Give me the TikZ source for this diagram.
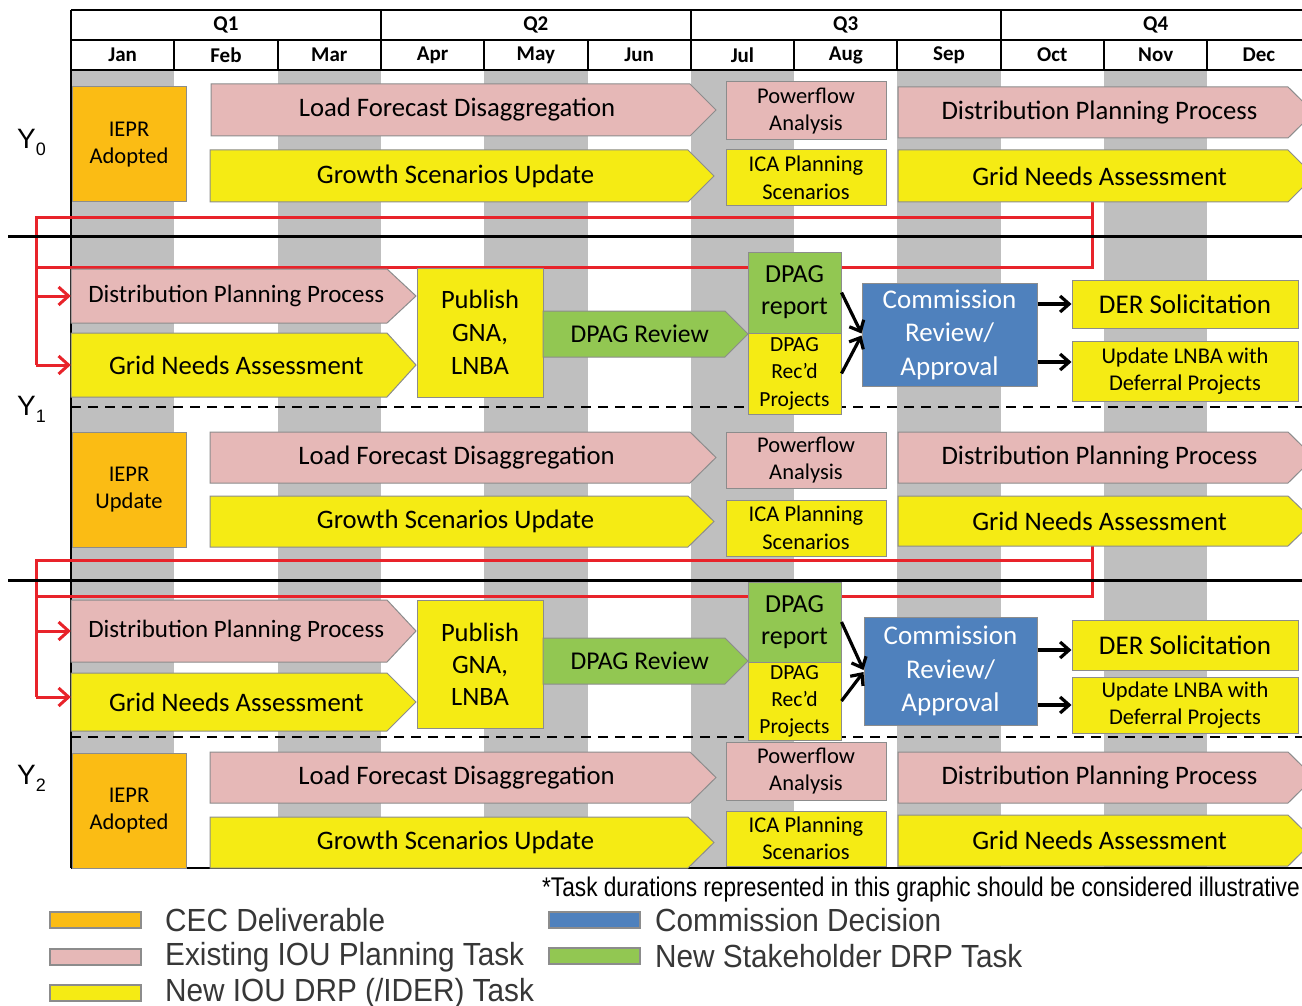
\documentclass[tikz,border=0pt]{standalone}
\usepackage{fontspec}
\setmainfont{Carlito}
\newfontfamily\arialfont{Liberation Sans}
\newfontfamily\legfont[FakeStretch=0.93]{Liberation Sans}
\newfontfamily\notefont[FakeStretch=0.84]{Liberation Sans}
\usetikzlibrary{arrows.meta,calc}
\definecolor{cOrange}{RGB}{251,188,20}
\definecolor{cPink}{RGB}{230,184,183}
\definecolor{cYellow}{RGB}{245,235,20}
\definecolor{cGreen}{RGB}{146,199,82}
\definecolor{cBlue}{RGB}{79,129,189}
\definecolor{cStripe}{RGB}{191,191,191}
\definecolor{cRed}{RGB}{232,35,42}
\definecolor{cEdge}{RGB}{140,140,140}
\definecolor{cLegend}{RGB}{55,55,55}
\newcommand{\fs}[2]{\fontsize{#1}{#2}\selectfont}
\tikzset{
  box/.style={draw=cEdge, line width=1pt, inner sep=0pt, align=center},
  hdr/.style={line width=2pt, black},
  redln/.style={draw=cRed, line width=3pt},
  redarr/.style={draw=cRed, line width=3pt, -{Straight Barb[length=10pt,width=18pt]}},
  blkarr/.style={draw=black, line width=3.2pt, -{Straight Barb[length=9pt,width=16pt]}},
  sep/.style={line width=3pt, black},
  dashsep/.style={line width=2.5pt, black, dash pattern=on 10pt off 7pt},
  sw/.style={draw=black!45, line width=1.2pt, minimum width=91pt, minimum height=16pt, inner sep=0pt},
  legtxt/.style={anchor=west, font=\legfont\fs{32}{36}, text=cLegend, inner sep=0pt},
  hdtxt/.style={font=\bfseries\fs{21}{24}},
  small/.style={font=\fs{22.5}{27.5}},
}
\newcommand{\chev}[8]{%
  \filldraw[fill=#7, draw=cEdge, line width=1pt] (#2,#3) -- ({#4-#6},#3) -- (#4,{(#3+#5)/2}) -- ({#4-#6},#5) -- (#2,#5) -- cycle;
  \node[inner sep=0pt, minimum width={#4-#2}, minimum height={#5-#3}] (#1) at ({(#2+#4)/2},{(#3+#5)/2}) {};
  \node[inner sep=0pt, align=center] (#1-t) at ({(#2+#4)/2-#6/4},{(#3+#5)/2}) {#8};
}
\newcommand{\rbox}[7]{%
  \node[box, #6, minimum width={#4-#2}, minimum height={#5-#3}] (#1) at ({(#2+#4)/2},{(#3+#5)/2}) {#7};
}
\begin{document}
\begin{tikzpicture}[x=1pt,y=-1pt]
\useasboundingbox (0,0) rectangle (1302,1006);
\clip (0,0) rectangle (1302,1006);
\fill[white] (0,0) rectangle (1302,1006);
% stripes
\foreach \k in {0,2,...,10}
  \fill[cStripe] ({71+\k*103.3},70) rectangle ({71+(\k+1)*103.3},868);
% header
\draw[hdr] (71,10) -- (1302,10);
\draw[hdr] (71,40) -- (1302,40);
\draw[hdr] (71,70) -- (1302,70);
\draw[hdr] (71,10) -- (71,868);
\foreach \k in {3,6,9} \draw[hdr] ({71+\k*103.3},10) -- ({71+\k*103.3},70);
\foreach \k in {1,2,4,5,7,8,10,11} \draw[hdr] ({71+\k*103.3},40) -- ({71+\k*103.3},70);
\foreach \q [count=\i from 0] in {Q1,Q2,Q3,Q4}
  \node[hdtxt] (hq\i) at ({71+(3*\i+1.5)*103.3},25) {\q};
\foreach \m [count=\i from 0] in {Jan,Feb,Mar,Apr,May,Jun,Jul,Aug,Sep,Oct,Nov,Dec}
  \node[hdtxt] (hm\i) at ({71+(\i+0.5)*103.3},55) {\m};
\draw[hdr] (71,868) -- (1302,868);

% connector anchor points of the red feedback loops
\coordinate (rA0) at (1092,202);
\coordinate (rB0) at (36,217);
\coordinate (rC0) at (36,267);
\coordinate (rA1) at (1092,546);
\coordinate (rB1) at (36,560);
\coordinate (rC1) at (36,596);

% red loops
\draw[redln, line join=miter] (rA0) |- (rC0);
\draw[redln, line join=miter] (rA0 |- rB0) -| (36,365);
\draw[redln, line join=miter] (rA1) |- (rC1);
\draw[redln, line join=miter] (rA1 |- rB1) -| (36,697);

% separators
\draw[sep] (8,236) -- (1302,236);
\draw[sep] (8,580) -- (1302,580);
\draw[dashsep] (71,407) -- (1302,407);
\draw[dashsep] (71,737) -- (1302,737);

% ---------- Y0 ----------
\rbox{iepr0}{72}{87}{186}{202}{fill=cOrange, small}{IEPR\\Adopted}
\chev{lfd0}{211}{84}{716}{136}{26}{cPink}{\fs{26.7}{32}Load Forecast Disaggregation}
\chev{gsu0}{210}{150}{714}{202}{26}{cYellow}{\fs{26.7}{32}Growth Scenarios Update}
\rbox{pfa0}{726}{82}{886}{140}{fill=cPink, small}{Powerflow\\Analysis}
\rbox{ica0}{726}{150}{886}{206}{fill=cYellow, small}{ICA Planning\\Scenarios}
\chev{dpp0}{898}{87}{1314}{138}{26}{cPink}{\fs{26.7}{32}Distribution Planning Process}
\chev{gna0}{898}{150}{1314}{202}{26}{cYellow}{\fs{26.7}{32}Grid Needs Assessment}

% ---------- Y1 middle ----------
\chev{dppL1}{71}{269}{416}{323}{29}{cPink}{\fs{25}{30}Distribution Planning Process}
\chev{gnaL1}{71}{333}{416}{397}{29}{cYellow}{\fs{26.7}{32}Grid Needs Assessment}
\rbox{pub1}{417}{268}{543}{397}{fill=cYellow, font=\fs{26.5}{33}}{Publish\\GNA,\\LNBA}
\chev{drv1}{543}{311}{748}{357}{23}{cGreen}{\fs{25.6}{30}DPAG Review}
\rbox{drep1}{748}{252}{841}{333}{fill=cGreen, font=\fs{26}{32}}{DPAG\\report}
\rbox{drec1}{748}{333}{841}{414}{fill=cYellow, font=\fs{21.5}{27.5}}{DPAG\\Rec’d\\Projects}
\rbox{com1}{862}{283}{1037}{386}{fill=cBlue, text=white, font=\fs{27}{33.5}}{Commission\\Review/\\Approval}
\rbox{der1}{1072}{280}{1298}{328}{fill=cYellow, font=\fs{27}{32}}{DER Solicitation}
\rbox{upd1}{1072}{341}{1298}{401}{fill=cYellow, small}{Update LNBA with\\Deferral Projects}

% ---------- Y1 lower ----------
\rbox{iepr1}{72}{432}{186}{547}{fill=cOrange, small}{IEPR\\Update}
\chev{lfd1}{210}{432}{716}{483}{26}{cPink}{\fs{26.7}{32}Load Forecast Disaggregation}
\chev{gsu1}{210}{496}{714}{547}{26}{cYellow}{\fs{26.7}{32}Growth Scenarios Update}
\rbox{pfa1}{726}{432}{886}{488}{fill=cPink, small}{Powerflow\\Analysis}
\rbox{ica1}{726}{500}{886}{556}{fill=cYellow, small}{ICA Planning\\Scenarios}
\chev{dpp1}{898}{432}{1314}{483}{26}{cPink}{\fs{26.7}{32}Distribution Planning Process}
\chev{gna1}{898}{496}{1314}{546}{26}{cYellow}{\fs{26.7}{32}Grid Needs Assessment}

% ---------- Y2 middle ----------
\chev{dppL2}{71}{600}{416}{662}{29}{cPink}{\fs{25}{30}Distribution Planning Process}
\chev{gnaL2}{71}{673}{416}{731}{29}{cYellow}{\fs{26.7}{32}Grid Needs Assessment}
\rbox{pub2}{417}{600}{543}{728}{fill=cYellow, font=\fs{26.5}{32}}{Publish\\GNA,\\LNBA}
\chev{drv2}{543}{638}{748}{684}{23}{cGreen}{\fs{25.6}{30}DPAG Review}
\rbox{drep2}{748}{582}{841}{662}{fill=cGreen, font=\fs{26}{32}}{DPAG\\report}
\rbox{drec2}{748}{662}{841}{740}{fill=cYellow, font=\fs{21.5}{27}}{DPAG\\Rec’d\\Projects}
\rbox{com2}{864}{617}{1037}{725}{fill=cBlue, text=white, font=\fs{27}{33.5}}{Commission\\Review/\\Approval}
\rbox{der2}{1072}{620}{1298}{670}{fill=cYellow, font=\fs{27}{32}}{DER Solicitation}
\rbox{upd2}{1072}{677}{1298}{733}{fill=cYellow, small}{Update LNBA with\\Deferral Projects}

% ---------- Y2 lower ----------
\rbox{iepr2}{72}{753}{186}{868}{fill=cOrange, small}{IEPR\\Adopted}
\chev{lfd2}{210}{752}{716}{803}{26}{cPink}{\fs{26.7}{32}Load Forecast Disaggregation}
\chev{gsu2}{210}{817}{714}{868}{26}{cYellow}{\fs{26.7}{32}Growth Scenarios Update}
\rbox{pfa2}{726}{742}{886}{800}{fill=cPink, small}{Powerflow\\Analysis}
\rbox{ica2}{726}{811}{886}{866}{fill=cYellow, small}{ICA Planning\\Scenarios}
\chev{dpp2}{898}{752}{1314}{803}{26}{cPink}{\fs{26.7}{32}Distribution Planning Process}
\chev{gna2}{898}{815}{1314}{866}{26}{cYellow}{\fs{26.7}{32}Grid Needs Assessment}

% red arrows into next-year tasks
\draw[redarr] (rB0 |- dppL1.west) -- (dppL1.west);
\draw[redarr] (rB0 |- gnaL1.west) -- (gnaL1.west);
\draw[redarr] (rB1 |- dppL2.west) -- (dppL2.west);
\draw[redarr] ([yshift=5pt]rB1 |- gnaL2.west) -- ([yshift=5pt]gnaL2.west);

% black arrows
\draw[blkarr] (drep1.east) -- ([yshift=1pt]com1.west);
\draw[blkarr] (drec1.east) -- ([yshift=-1pt]com1.west);
\draw[blkarr] (com1.east |- der1.west) -- (der1.west);
\draw[blkarr] ([yshift=9pt]com1.east |- upd1.west) -- ([yshift=9pt]upd1.west);
\draw[blkarr] (drep2.east) -- ([yshift=1pt]com2.west);
\draw[blkarr] (drec2.east) -- ([yshift=-1pt]com2.west);
\draw[blkarr] ([yshift=-5pt]com2.east |- der2.west) -- ([yshift=-5pt]der2.west);
\draw[blkarr] (com2.east |- upd2.west) -- (upd2.west);

% Y labels
\node[anchor=base west, inner sep=0pt, font=\arialfont\fs{28}{30}] (ylab0) at (17,149) {Y\raisebox{-7pt}{\fs{18}{18}0}};
\node[anchor=base west, inner sep=0pt, font=\arialfont\fs{28}{30}] (ylab1) at (17,415) {Y\raisebox{-7pt}{\fs{18}{18}1}};
\node[anchor=base west, inner sep=0pt, font=\arialfont\fs{28}{30}] (ylab2) at (17,784) {Y\raisebox{-7pt}{\fs{18}{18}2}};

% legend
\node[anchor=east, inner sep=0pt, font=\notefont\fs{27}{29}] (note) at (1300,890) {*Task durations represented in this graphic should be considered illustrative};
\node[sw, fill=cOrange] (sw1) at (95.5,920) {};
\node[sw, fill=cPink] (sw2) at (95.5,957) {};
\node[sw, fill=cYellow] (sw3) at (95.5,993) {};
\node[sw, fill=cBlue] (sw4) at (594.5,920) {};
\node[sw, fill=cGreen] (sw5) at (594.5,956) {};
\node[legtxt] (lt1) at (165,920) {CEC Deliverable};
\node[legtxt] (lt2) at (165,957) {Existing IOU Planning Task};
\node[legtxt] (lt3) at (165,993) {New IOU DRP (/IDER) Task};
\node[legtxt] (lt4) at (655,920) {Commission Decision};
\node[legtxt] (lt5) at (655,956) {New Stakeholder DRP Task};
\end{tikzpicture}
\end{document}
